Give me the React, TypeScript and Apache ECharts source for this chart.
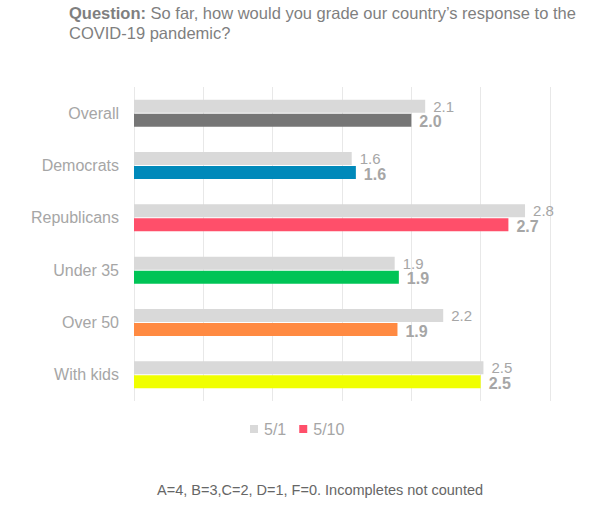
import React, { useEffect, useRef } from "react";
import * as echarts from "echarts";

const categories = ["Overall", "Democrats", "Republicans", "Under 35", "Over 50", "With kids"];
const may1Values = [2.1, 1.57, 2.82, 1.88, 2.23, 2.52];
const may10Values = [2.0, 1.6, 2.7, 1.91, 1.9, 2.5];
const may10Colors = ["#767676", "#0089BA", "#FF4F6A", "#00C456", "#FF8A42", "#F0FF00"];
const seriesNames = ["5/1", "5/10"];

const FONT = "'Liberation Sans', Arial, Helvetica, sans-serif";

export default function App() {
  const ref = useRef<HTMLDivElement>(null);
  useEffect(() => {
    document.body.style.margin = "0";
    if (!ref.current) return;
    const chart = echarts.init(ref.current, null, { renderer: "svg" });
    chart.setOption({
      animation: false,
      backgroundColor: "#ffffff",
      textStyle: { fontFamily: FONT },
      title: {
        left: 69,
        top: 3,
        padding: 0,
        text: "{b|Question:} So far, how would you grade our country’s response to the\nCOVID-19 pandemic?",
        textStyle: {
          fontFamily: FONT,
          fontSize: 16.5,
          color: "#7F7F7F",
          fontWeight: "normal",
          lineHeight: 20,
          rich: {
            b: { fontFamily: FONT, fontSize: 16.5, fontWeight: "bold", color: "#7F7F7F", lineHeight: 20 },
          },
        },
      },
      legend: {
        left: 250,
        top: 421,
        padding: 0,
        itemWidth: 8,
        itemHeight: 8,
        itemGap: 13,
        icon: "rect",
        data: seriesNames,
        textStyle: { fontFamily: FONT, fontSize: 16, color: "#A6A6A6", padding: [0, 0, 0, 1] },
      },
      grid: { left: 134, right: 56, top: 87, bottom: 108, containLabel: false },
      xAxis: {
        type: "value",
        min: 0,
        max: 3,
        interval: 0.5,
        axisLabel: { show: false },
        axisLine: { show: false },
        axisTick: { show: false },
        splitLine: { show: true, lineStyle: { color: "#E8E8E8", width: 1 } },
      },
      yAxis: {
        type: "category",
        data: categories,
        inverse: true,
        axisLine: { show: false },
        axisTick: { show: false },
        axisLabel: { fontFamily: FONT, fontSize: 16, color: "#A6A6A6", margin: 15 },
      },
      series: [
        {
          name: seriesNames[0],
          type: "bar",
          barWidth: 13,
          barGap: "8%",
          data: may1Values,
          itemStyle: { color: "#D9D9D9" },
          label: {
            show: true,
            position: "right",
            distance: 8,
            fontFamily: FONT,
            fontSize: 15,
            lineHeight: 12,
            color: "#A6A6A6",
            offset: [0, 0],
            formatter: (p: any) => Number(p.value).toFixed(1),
          },
        },
        {
          name: seriesNames[1],
          type: "bar",
          barWidth: 13,
          data: may10Values.map((v, i) => ({ value: v, itemStyle: { color: may10Colors[i] } })),
          itemStyle: { color: "#FF4F6A" },
          label: {
            show: true,
            position: "right",
            distance: 8,
            fontFamily: FONT,
            fontSize: 16,
            lineHeight: 12,
            fontWeight: "bold",
            color: "#A6A6A6",
            offset: [0, 1.5],
            formatter: (p: any) => Number(p.value).toFixed(1),
          },
        },
      ],
      graphic: [
        {
          type: "text",
          left: 157,
          top: 482,
          style: {
            text: "A=4, B=3,C=2, D=1, F=0. Incompletes not counted",
            fontFamily: FONT,
            fontSize: 14.5,
            fill: "#666666",
          },
        },
      ],
    });
    return () => chart.dispose();
  }, []);
  return <div ref={ref} style={{ width: 606, height: 509 }} />;
}
